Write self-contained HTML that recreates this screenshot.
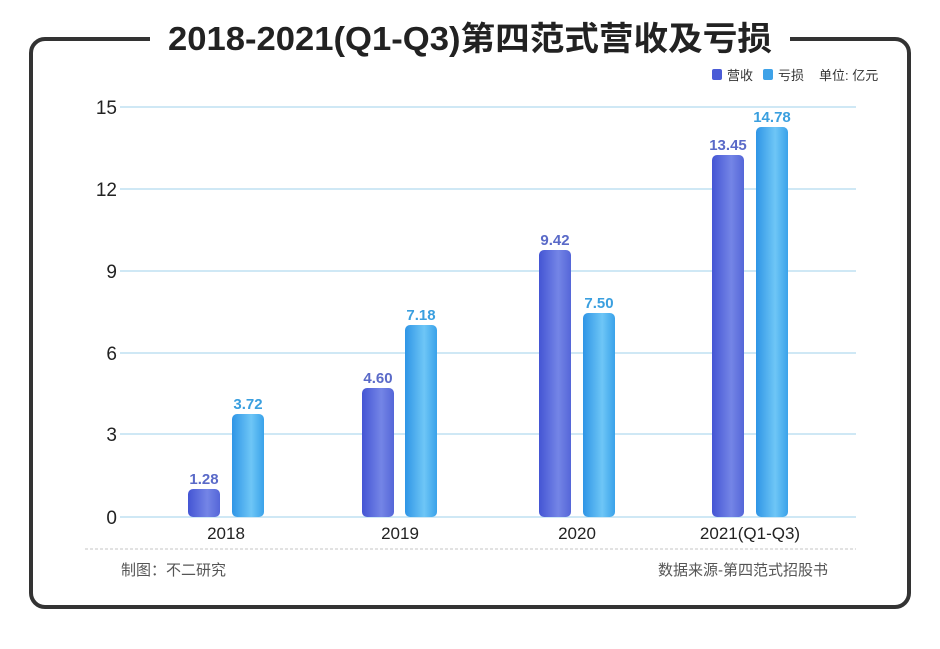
<!DOCTYPE html>
<html><head><meta charset="utf-8"><style>
body{margin:0;background:#fff;width:940px;height:644px;overflow:hidden;font-family:"Liberation Sans","Noto Sans CJK SC",sans-serif}
</style></head><body>
<svg width="940" height="644" xmlns="http://www.w3.org/2000/svg" font-family="Liberation Sans, Noto Sans CJK SC, sans-serif">
<defs>
<linearGradient id="p" x1="0" x2="1"><stop offset="0" stop-color="#4455d4"/><stop offset="0.6" stop-color="#7485e6"/><stop offset="1" stop-color="#5566d8"/></linearGradient>
<linearGradient id="b" x1="0" x2="1"><stop offset="0" stop-color="#2f95e6"/><stop offset="0.6" stop-color="#6ec6f6"/><stop offset="1" stop-color="#3aa2ea"/></linearGradient>
</defs>
<rect x="31" y="39" width="878" height="568" rx="14" fill="none" stroke="#333" stroke-width="4"/>
<rect x="150" y="20" width="640" height="40" fill="#fff"/>
<text x="470" y="50" text-anchor="middle" font-size="33" font-weight="bold" fill="#222" textLength="604" lengthAdjust="spacingAndGlyphs">2018-2021(Q1-Q3)第四范式营收及亏损</text>
<rect x="712" y="69" width="10" height="11" rx="2" fill="#4a5bd6"/><text x="727" y="80" font-size="13" fill="#333">营收</text>
<rect x="763" y="69" width="10" height="11" rx="2" fill="#3ea2e8"/><text x="778" y="80" font-size="13" fill="#333">亏损</text>
<text x="819" y="80" font-size="13" fill="#333">单位: 亿元</text>
<g stroke="#cfe8f5" stroke-width="2">
<line x1="120" x2="856" y1="107" y2="107"/><line x1="120" x2="856" y1="189" y2="189"/><line x1="120" x2="856" y1="271" y2="271"/><line x1="120" x2="856" y1="353" y2="353"/><line x1="120" x2="856" y1="434" y2="434"/><line x1="120" x2="856" y1="517" y2="517"/>
</g>
<g font-size="19" fill="#222" text-anchor="end">
<text x="117" y="114">15</text><text x="117" y="196">12</text><text x="117" y="278">9</text><text x="117" y="360">6</text><text x="117" y="441">3</text><text x="117" y="524">0</text>
</g>
<g>
<rect x="188" y="489" width="32" height="28" rx="5" fill="url(#p)"/>
<rect x="232" y="414" width="32" height="103" rx="5" fill="url(#b)"/>
<rect x="362" y="388" width="32" height="129" rx="5" fill="url(#p)"/>
<rect x="405" y="325" width="32" height="192" rx="5" fill="url(#b)"/>
<rect x="539" y="250" width="32" height="267" rx="5" fill="url(#p)"/>
<rect x="583" y="313" width="32" height="204" rx="5" fill="url(#b)"/>
<rect x="712" y="155" width="32" height="362" rx="5" fill="url(#p)"/>
<rect x="756" y="127" width="32" height="390" rx="5" fill="url(#b)"/>
</g>
<g font-size="15" font-weight="bold" text-anchor="middle">
<text x="204" y="484" fill="#5a6ac8">1.28</text><text x="248" y="409" fill="#3a9fdf">3.72</text>
<text x="378" y="383" fill="#5a6ac8">4.60</text><text x="421" y="320" fill="#3a9fdf">7.18</text>
<text x="555" y="245" fill="#5a6ac8">9.42</text><text x="599" y="308" fill="#3a9fdf">7.50</text>
<text x="728" y="150" fill="#5a6ac8">13.45</text><text x="772" y="122" fill="#3a9fdf">14.78</text>
</g>
<g font-size="17" fill="#222" text-anchor="middle">
<text x="226" y="539">2018</text><text x="400" y="539">2019</text><text x="577" y="539">2020</text><text x="750" y="539">2021(Q1-Q3)</text>
</g>
<line x1="85" x2="856" y1="549" y2="549" stroke="#c4c4c4" stroke-dasharray="3,2"/>
<text x="121" y="575" font-size="15" fill="#555">制图：不二研究</text>
<text x="828" y="575" font-size="15" fill="#555" text-anchor="end">数据来源-第四范式招股书</text>
</svg>
</body></html>
